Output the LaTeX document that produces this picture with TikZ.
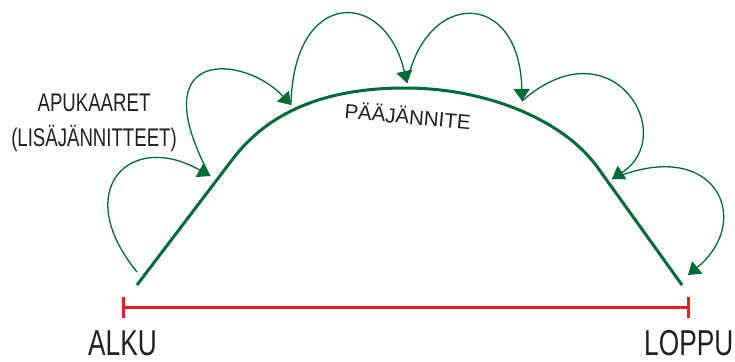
\documentclass[tikz,border=0pt]{standalone}
\usepackage{fontspec}
\setmainfont{Liberation Sans}
\newfontfamily\condsans[FakeStretch=0.73]{Liberation Sans}
\usetikzlibrary{arrows.meta}
\definecolor{mgreen}{RGB}{0,107,56}
\definecolor{mred}{RGB}{237,28,36}
\definecolor{tgray}{RGB}{35,31,32}

\begin{document}
\begin{tikzpicture}[
    x=1pt, y=-1pt,
    main/.style={draw=mgreen, line width=3pt},
    apu/.style={draw=mgreen, line width=1.3pt, -{Triangle[length=12pt, width=16pt]}},
    spanline/.style={draw=mred, line width=3pt, {Bar[width=21pt]}-{Bar[width=21pt]}},
    txt/.style={text=tgray, inner sep=0pt}
]
\useasboundingbox (0,0) rectangle (735,361);

\coordinate (m0) at (137,285);
\coordinate (m1) at (232,160);
\coordinate (mtop) at (405,88);
\coordinate (m2) at (598,168);
\coordinate (m3) at (682,285);

\coordinate (p0) at (137,272);
\coordinate (p1) at (210,176);
\coordinate (p2) at (291,105);
\coordinate (p3) at (407,83);
\coordinate (p4) at (522,101);
\coordinate (p5) at (612,179);
\coordinate (p6) at (688,275);

\coordinate (s0) at (122,307);
\coordinate (s1) at (690,307);

\draw[main] (m0) -- (m1) .. controls (268,112) and (325,88) .. (mtop)
    .. controls (485,88) and (563,119) .. (m2) -- (m3);

\draw[apu] (p0) .. controls (70,190) and (130,130) .. (p1);
\draw[apu] (p1) .. controls (140,45) and (245,55) .. (p2);
\draw[apu] (p2) .. controls (293,-12) and (385,-12) .. (p3);
\draw[apu] (p3) .. controls (426,-11) and (520,-11) .. (p4);
\draw[apu] (p4) .. controls (612,22) and (680,135) .. (p5);
\draw[apu] (p5) .. controls (715,135) and (755,220) .. (p6);

\draw[spanline] (s0) -- (s1);

\node[txt, anchor=base west, font=\condsans\fontsize{36}{40}\selectfont] (alku) at (88,355) {ALKU};
\node[txt, anchor=base west, font=\condsans\fontsize{36}{40}\selectfont] (loppu) at (644,355) {LOPPU};
\node[txt, align=center, font=\condsans\fontsize{25.5}{35}\selectfont] (apukaaret) at (94,123) {APUKAARET\\(LISÄJÄNNITTEET)};
\node[txt, anchor=base, rotate=-5, font=\fontsize{20.5}{24}\selectfont] (paajannite) at (407,124) {PÄÄJÄNNITE};
\end{tikzpicture}
\end{document}
